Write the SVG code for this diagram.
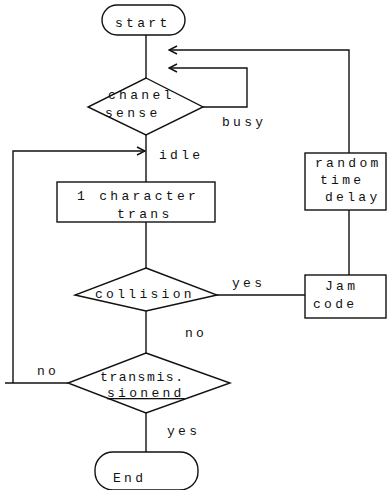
<svg xmlns="http://www.w3.org/2000/svg" width="389" height="490" viewBox="0 0 389 490">
  <style>
    .shape { fill: #fff; stroke: #111; stroke-width: 1.4; }
    .wire { fill: none; stroke: #111; stroke-width: 1.4; }
    text { font-family: "Liberation Mono", "DejaVu Sans Mono", monospace; font-size: 13px; letter-spacing: 3.3px; fill: #111; }
  </style>
  <defs>
    <marker id="open" viewBox="0 0 10 10" refX="9" refY="5" markerWidth="10" markerHeight="10" markerUnits="userSpaceOnUse" orient="auto">
      <path d="M1,1 L9,5 L1,9" fill="none" stroke="#111" stroke-width="1.4"/>
    </marker>
  </defs>
  <rect width="389" height="490" fill="#fff"/>

  <g id="connectors">
    <path class="wire" d="M146,35 V78"/>
    <path class="wire" d="M146,135 V182"/>
    <path class="wire" d="M146,222 V268"/>
    <path class="wire" d="M146,311 V353"/>
    <path class="wire" d="M146,413 V452"/>
    <path class="wire" d="M203,107 H247 V68 H169" marker-end="url(#open)"/>
    <path class="wire" d="M349,153 V50 H169" marker-end="url(#open)"/>
    <path class="wire" d="M349,210 V275"/>
    <path class="wire" d="M217,295 H305"/>
    <path class="wire" d="M68,383 H5"/>
    <path class="wire" d="M13,383 V151 H145" marker-end="url(#open)"/>
    <text x="222" y="126">busy</text>
    <text x="159" y="159">idle</text>
    <text x="232" y="287">yes</text>
    <text x="185" y="337">no</text>
    <text x="37" y="375">no</text>
    <text x="167" y="435">yes</text>
  </g>

  <g id="start">
    <rect class="shape" x="102" y="5" width="83" height="30" rx="15"/>
    <text x="115" y="27">start</text>
  </g>

  <g id="chanel-sense">
    <polygon class="shape" points="146,78 203,107 146,135 88,107"/>
    <text x="108" y="99">chanel</text>
    <text x="105" y="117">sense</text>
  </g>

  <g id="char-trans">
    <rect class="shape" x="57" y="182" width="158" height="40"/>
    <text x="77" y="200">1 character</text>
    <text x="117" y="218">trans</text>
  </g>

  <g id="collision">
    <polygon class="shape" points="146,268 217,295 146,311 75,295"/>
    <text x="95" y="298">collision</text>
  </g>

  <g id="transmission-end">
    <polygon class="shape" points="146,353 230,383 146,413 68,383"/>
    <text x="100" y="381" style="letter-spacing:1.6px">transmis.</text>
    <text x="107" y="397" text-decoration="underline">sionend</text>
  </g>

  <g id="end">
    <rect class="shape" x="95" y="452" width="103" height="38" rx="18"/>
    <text x="113" y="482">End</text>
  </g>

  <g id="random-delay">
    <rect class="shape" x="305" y="153" width="81" height="57"/>
    <text x="315" y="167">random</text>
    <text x="320" y="184">time</text>
    <text x="325" y="201">delay</text>
  </g>

  <g id="jam-code">
    <rect class="shape" x="305" y="275" width="81" height="43"/>
    <text x="325" y="290">Jam</text>
    <text x="313" y="308">code</text>
  </g>
</svg>
